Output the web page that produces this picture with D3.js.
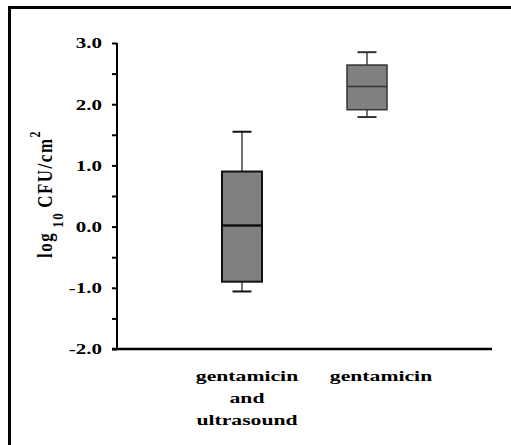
<!DOCTYPE html>
<html>
<head>
<meta charset="utf-8">
<script src="https://cdn.jsdelivr.net/npm/d3@7"></script>
<style>
  html, body { margin: 0; padding: 0; background: #fff; }
  svg { display: block; }
  text { font-family: "Liberation Serif", "Times New Roman", serif; font-weight: bold; fill: #000; }
</style>
</head>
<body>
<svg id="chart"></svg>
<script>
// groups along the x axis
const categories = ['gentamicin and ultrasound', 'gentamicin']
const labelLines = [['gentamicin', 'and', 'ultrasound'], ['gentamicin']]

// box plot summaries (log10 CFU/cm2)
const whiskerLow = [-1.06, 1.79]
const quartile1 = [-0.9, 1.91]
const medians = [0.02, 2.29]
const quartile3 = [0.9, 2.64]
const whiskerHigh = [1.55, 2.85]

const yTicks = [-2, -1, 0, 1, 2, 3]
const yMinorTicks = [-2, -1.5, -1, -0.5, 0, 0.5, 1, 1.5, 2, 2.5, 3]

const width = 511
const height = 445
const margin = { top: 43, right: 19, bottom: 96, left: 117 }
const innerW = width - margin.left - margin.right
const innerH = height - margin.top - margin.bottom

const svg = d3.select('#chart').attr('width', width).attr('height', height)

// frame (only left + top visible, rest is cropped in the original)
svg.append('line').attr('x1', 9.5).attr('x2', 9.5).attr('y1', 6).attr('y2', height)
  .attr('stroke', '#000').attr('stroke-width', 3)
svg.append('line').attr('x1', 8).attr('x2', width).attr('y1', 7.5).attr('y2', 7.5)
  .attr('stroke', '#000').attr('stroke-width', 3)

const g = svg.append('g').attr('transform', `translate(${margin.left},${margin.top})`)

const x = d3.scalePoint().domain(categories).range([0, innerW]).padding(1)
const y = d3.scaleLinear().domain([-2, 3]).range([innerH, 0])

// y axis: ticks every 0.5, labels on whole numbers
const yAxis = g.append('g')
  .call(d3.axisLeft(y).tickValues(yMinorTicks).tickSize(5).tickFormat(''))
yAxis.select('.domain').attr('stroke-width', 2).attr('d', `M0,${y(3)}V${innerH}`)
yAxis.selectAll('.tick line').attr('stroke-width', 2)

g.append('g').selectAll('text')
  .data(yTicks)
  .join('text')
  .attr('transform', d => `translate(-15,${y(d)}) scale(1.4,1)`)
  .attr('dy', '0.36em')
  .attr('text-anchor', 'end')
  .style('font-size', '15px')
  .text(d => d.toFixed(1))

// x axis line
g.append('line')
  .attr('x1', -5).attr('x2', innerW)
  .attr('y1', innerH).attr('y2', innerH)
  .attr('stroke', '#000').attr('stroke-width', 2.5)

// boxes
const boxW = 40
const capW = 19
const styles = [
  { stroke: '#111', sw: 2, med: 2.5, whisk: '#444' },
  { stroke: '#333', sw: 1.5, med: 1.5, whisk: '#444' },
]

const boxes = g.selectAll('.box')
  .data(categories)
  .join('g')
  .attr('class', 'box')
  .attr('transform', d => `translate(${x(d)},0)`)

boxes.append('line')
  .attr('y1', (d, i) => y(whiskerHigh[i])).attr('y2', (d, i) => y(quartile3[i]))
  .attr('stroke', (d, i) => styles[i].whisk).attr('stroke-width', 1.5)
boxes.append('line')
  .attr('y1', (d, i) => y(quartile1[i])).attr('y2', (d, i) => y(whiskerLow[i]))
  .attr('stroke', (d, i) => styles[i].whisk).attr('stroke-width', 1.5)
boxes.append('line')
  .attr('x1', -capW / 2).attr('x2', capW / 2)
  .attr('y1', (d, i) => y(whiskerHigh[i])).attr('y2', (d, i) => y(whiskerHigh[i]))
  .attr('stroke', (d, i) => styles[i].stroke).attr('stroke-width', 2)
boxes.append('line')
  .attr('x1', -capW / 2).attr('x2', capW / 2)
  .attr('y1', (d, i) => y(whiskerLow[i])).attr('y2', (d, i) => y(whiskerLow[i]))
  .attr('stroke', (d, i) => styles[i].stroke).attr('stroke-width', 2)

boxes.append('rect')
  .attr('x', -boxW / 2).attr('width', boxW)
  .attr('y', (d, i) => y(quartile3[i]))
  .attr('height', (d, i) => y(quartile1[i]) - y(quartile3[i]))
  .attr('fill', '#808080')
  .attr('stroke', (d, i) => styles[i].stroke)
  .attr('stroke-width', (d, i) => styles[i].sw)

boxes.append('line')
  .attr('x1', -boxW / 2).attr('x2', boxW / 2)
  .attr('y1', (d, i) => y(medians[i])).attr('y2', (d, i) => y(medians[i]))
  .attr('stroke', (d, i) => styles[i].stroke)
  .attr('stroke-width', (d, i) => styles[i].med)

// category labels
const labelDx = [5, 14]
categories.forEach((c, i) => {
  labelLines[i].forEach((line, j) => {
    g.append('text')
      .attr('transform', `translate(${x(c) + labelDx[i]},${innerH + 32 + j * 22}) scale(1.55,1)`)
      .attr('text-anchor', 'middle')
      .style('font-size', '14px')
      .text(line)
  })
})

// y axis title: log10 CFU/cm2
const yTitle = svg.append('text')
  .attr('transform', 'translate(52,258) rotate(-90) scale(1,1.2)')
  .attr('text-anchor', 'start')
  .style('font-size', '17px')
  .style('letter-spacing', '1.5px')
yTitle.append('tspan').text('log')
yTitle.append('tspan').attr('dx', 4).attr('dy', 9).style('font-size', '13px').text('10')
yTitle.append('tspan').attr('dx', 4).attr('dy', -9).text('CFU/cm')
yTitle.append('tspan').attr('dy', -10).style('font-size', '12px').text('2')
</script>
</body>
</html>
